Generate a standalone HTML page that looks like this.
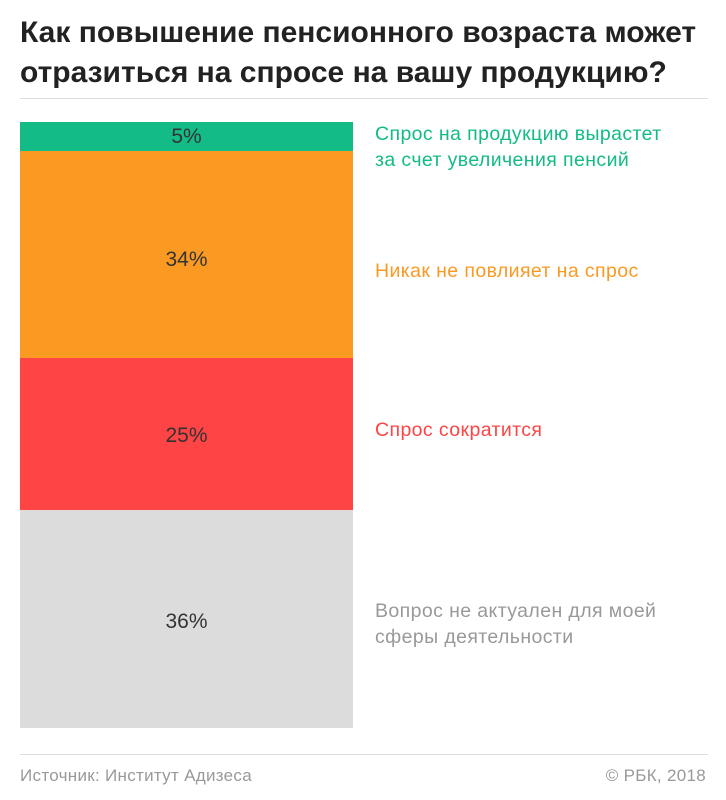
<!DOCTYPE html>
<html><head><meta charset="utf-8"><style>
body{margin:0;width:726px;height:800px;background:#fff;position:relative;font-family:"Liberation Sans","Noto Sans CJK SC",sans-serif;overflow:hidden}
.t{position:absolute;left:20px;top:13px;font-size:30px;font-weight:bold;color:#222;line-height:40px;letter-spacing:0px}
.hr{position:absolute;left:20px;width:688px;height:1px;background:#ddd}
.s{position:absolute;left:20px;width:333px;text-align:center;font-size:21px;color:#333}
.l{position:absolute;left:375px;font-size:19.5px;line-height:26px;letter-spacing:0.4px}
.f{position:absolute;top:766px;font-size:17px;color:#999;letter-spacing:0.3px}
</style></head><body>
<div class="t">Как повышение пенсионного возраста может<br>отразиться на спросе на вашу продукцию?</div>
<div class="hr" style="top:98px"></div>
<div class="s" style="top:122px;height:29px;line-height:29px;background:#13bb86">5%</div>
<div class="s" style="top:151px;height:207px;line-height:217px;background:#fb9a23">34%</div>
<div class="s" style="top:358px;height:152px;line-height:156px;background:#fe4444">25%</div>
<div class="s" style="top:510px;height:218px;line-height:224px;background:#dcdcdc">36%</div>
<div class="l" style="top:121px;color:#13bb86">Спрос на продукцию вырастет<br>за счет увеличения пенсий</div>
<div class="l" style="top:258px;color:#fb9a23">Никак не повлияет на спрос</div>
<div class="l" style="top:417px;color:#fe4444">Спрос сократится</div>
<div class="l" style="top:598px;color:#999">Вопрос не актуален для моей<br>сферы деятельности</div>
<div class="hr" style="top:754px"></div>
<div class="f" style="left:20px">Источник: Институт Адизеса</div>
<div class="f" style="right:20px">© РБК, 2018</div>
</body></html>
